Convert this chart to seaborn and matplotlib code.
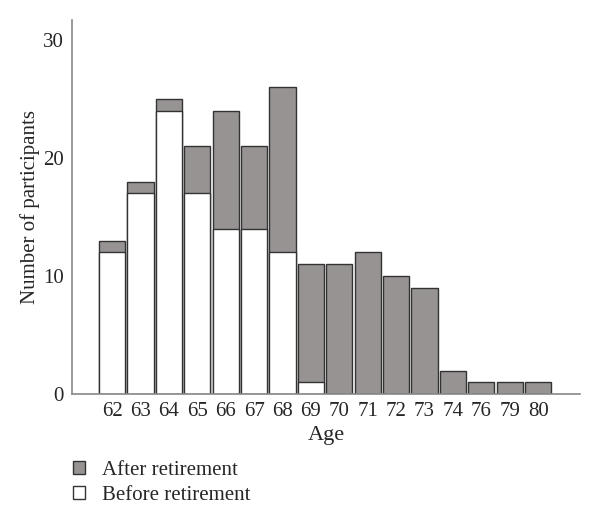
import seaborn as sns
import matplotlib.pyplot as plt
import pandas as pd
from matplotlib.patches import Patch

ages = ["62", "63", "64", "65", "66", "67", "68", "69", "70", "71", "72", "73", "74", "76", "79", "80"]
before = [12, 17, 24, 17, 14, 14, 12, 1, 0, 0, 0, 0, 0, 0, 0, 0]
after = [1, 1, 1, 4, 10, 7, 14, 10, 11, 12, 10, 9, 2, 1, 1, 1]

df = pd.DataFrame({"Age": ages, "Before": before, "After": after})
df["Total"] = df["Before"] + df["After"]

sns.set_style("white")
plt.rcParams["font.family"] = ["Liberation Serif", "DejaVu Serif"]

fig = plt.figure(figsize=(6, 5.2), dpi=100)
ax = fig.add_axes([0.12, 0.242, 0.847, 0.72])

gray = "#979393"
edge = "#333333"
sns.barplot(data=df, x="Age", y="Total", order=ages, color=gray, edgecolor=edge,
            linewidth=1.0, width=0.92, saturation=1, ax=ax)
sns.barplot(data=df[df["Before"] > 0], x="Age", y="Before", order=ages, color="white",
            edgecolor=edge, linewidth=1.0, width=0.92, saturation=1, ax=ax)

ax.set_xlim(-1.41, 16.48)
ax.set_ylim(0, 31.7)
ax.set_yticks([0, 10, 20, 30])
ax.set_ylabel("Number of participants", fontsize=15, labelpad=2)
ax.set_xlabel("Age", fontsize=16, labelpad=3)
ax.tick_params(axis="both", labelsize=15, length=0, pad=6)
for s in ["top", "right"]:
    ax.spines[s].set_visible(False)
for s in ["left", "bottom"]:
    ax.spines[s].set_color("#888888")
    ax.spines[s].set_linewidth(1.2)

handles = [Patch(facecolor=gray, edgecolor=edge, label="After retirement"),
           Patch(facecolor="white", edgecolor=edge, label="Before retirement")]
fig.legend(handles=handles, loc="upper left", bbox_to_anchor=(0.09, 0.15),
           frameon=False, fontsize=15, handlelength=0.6, handleheight=0.6,
           handletextpad=0.8, labelspacing=0.3)

plt.savefig("out.png", dpi=100)
